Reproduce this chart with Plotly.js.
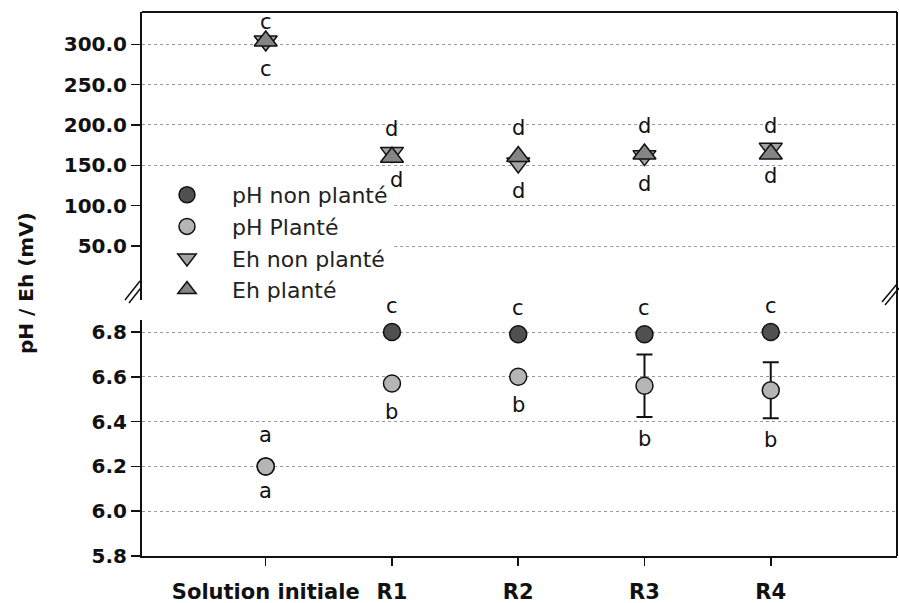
<!DOCTYPE html>
<html>
<head>
<meta charset="utf-8">
<script src="https://cdn.plot.ly/plotly-3.0.1.min.js"></script>
<style>html,body{margin:0;padding:0;background:#fff;}#chart{width:899px;height:603px;}</style>
</head>
<body>
<div id="chart"></div>
<script>
// ---- data ----
const categories = ["Solution initiale", "R1", "R2", "R3", "R4"];
const phNonPlante = [6.20, 6.80, 6.79, 6.79, 6.80];
const phPlante = [6.20, 6.57, 6.60, 6.56, 6.54];
const phPlanteErr = [0, 0, 0, 0.14, 0.125];
const ehNonPlante = [304, 166, 153, 162, 171];
const ehPlante = [304, 160, 161, 164, 164];
const lettersPhNonPlante = ["a", "c", "c", "c", "c"];
const lettersPhPlante = ["a", "b", "b", "b", "b"];
const lettersEhPlante = ["c", "d", "d", "d", "d"];
const lettersEhNonPlante = ["c", "d", "d", "d", "d"];
const phTicks = [5.8, 6.0, 6.2, 6.4, 6.6, 6.8];
const ehTicks = [50, 100, 150, 200, 250, 300];

// ---- geometry helpers (pixel frame of the plot) ----
const W = 899, H = 603;
const M = {l: 142, r: 2, t: 12, b: 47};
const PW = W - M.l - M.r, PH = H - M.t - M.b;
const px = x => (x - M.l) / PW;
const py = y => (H - M.b - y) / PH;

const font = "DejaVu Sans";
const black = "#111";

const traces = [
  {
    name: "pH non planté", x: categories, y: phNonPlante, xaxis: "x", yaxis: "y",
    type: "scatter", mode: "markers",
    marker: {symbol: "circle", size: 17, color: "#505050", line: {color: black, width: 1.5}}
  },
  {
    name: "pH Planté", x: categories, y: phPlante, xaxis: "x", yaxis: "y",
    type: "scatter", mode: "markers",
    error_y: {type: "data", array: phPlanteErr, visible: true, color: black, thickness: 2, width: 8},
    marker: {symbol: "circle", size: 17, color: "#b5b5b5", line: {color: black, width: 1.5}}
  },
  {
    name: "Eh non planté", x: categories, y: ehNonPlante, xaxis: "x", yaxis: "y2",
    type: "scatter", mode: "markers",
    marker: {symbol: "triangle-down", size: 20, color: "#a3a3a3", line: {color: black, width: 1.5}}
  },
  {
    name: "Eh planté", x: categories, y: ehPlante, xaxis: "x", yaxis: "y2",
    type: "scatter", mode: "markers",
    marker: {symbol: "triangle-up", size: 20, color: "#858585", line: {color: black, width: 1.5}}
  }
];

const annotations = [];
const letterFont = {family: font, size: 21, color: black};
categories.forEach((c, i) => {
  if (lettersPhNonPlante[i]) annotations.push({x: c, y: phNonPlante[i], xref: "x", yref: "y", text: lettersPhNonPlante[i], showarrow: false, yshift: (i === 0 ? 31 : 26), font: letterFont});
  const err = phPlanteErr[i];
  annotations.push({x: c, y: phPlante[i] - err, xref: "x", yref: "y", text: lettersPhPlante[i], showarrow: false, yshift: err > 0 ? -22 : (i === 0 ? -25 : -28), font: letterFont});
  annotations.push({x: c, y: ehPlante[i], xref: "x", yref: "y2", text: lettersEhPlante[i], showarrow: false, yshift: (i === 0 ? 19 : 28), font: letterFont});
  annotations.push({x: c, y: ehNonPlante[i], xref: "x", yref: "y2", text: lettersEhNonPlante[i], showarrow: false, yshift: -28, xshift: (i === 1 ? 5 : 0), font: letterFont});
});
annotations.push({
  text: "pH / Eh (mV)", xref: "paper", yref: "paper", x: px(26), y: py(283),
  xanchor: "center", yanchor: "middle", textangle: -90, showarrow: false,
  font: {family: font, size: 20, color: black, weight: "bold"}
});

const lineBlack = {color: black, width: 2};
const shapes = [
  // frame top and right
  {type: "line", xref: "paper", yref: "paper", x0: 0, x1: 1, y0: 1, y1: 1, line: lineBlack},
  {type: "line", xref: "paper", yref: "paper", x0: 1, x1: 1, y0: 0, y1: 1, line: lineBlack},
  // axis break marks
  {type: "line", xref: "paper", yref: "paper", x0: px(125), y0: py(300), x1: px(140), y1: py(281), line: {color: black, width: 1.5}},
  {type: "line", xref: "paper", yref: "paper", x0: px(129), y0: py(303), x1: px(144), y1: py(284), line: {color: black, width: 1.5}},
  {type: "line", xref: "paper", yref: "paper", x0: px(882), y0: py(302), x1: px(897), y1: py(284), line: {color: black, width: 1.5}},
  {type: "line", xref: "paper", yref: "paper", x0: px(885), y0: py(305), x1: px(899), y1: py(288), line: {color: black, width: 1.5}}
];

const tickFont = {family: font, size: 20, color: black, weight: "bold"};
const layout = {
  width: W, height: H,
  margin: M,
  paper_bgcolor: "#fff", plot_bgcolor: "rgba(0,0,0,0)",
  showlegend: true,
  legend: {
    x: 0, xanchor: "left", y: py(174), yanchor: "top",
    bgcolor: "#fff", borderwidth: 0, itemwidth: 80,
    font: {family: font, size: 22, color: "#222"}, tracegroupgap: 0
  },
  xaxis: {
    type: "category", range: [-0.98, 5.0], anchor: "y",
    showline: true, linecolor: black, linewidth: 2,
    ticks: "outside", ticklen: 8, tickwidth: 1.5, tickcolor: black,
    ticklabelstandoff: 8,
    tickfont: {family: font, size: 21, color: black, weight: "bold"},
    showgrid: false, zeroline: false
  },
  yaxis: {
    domain: [0, py(320)], range: [5.8, 6.8536], anchor: "x",
    tickvals: phTicks, tickformat: ".1f",
    showline: true, linecolor: black, linewidth: 2,
    ticks: "outside", ticklen: 9, tickwidth: 1.5, tickcolor: black,
    tickfont: tickFont,
    showgrid: true, gridcolor: "#9a9a9a", gridwidth: 1, griddash: "dot",
    zeroline: false
  },
  yaxis2: {
    domain: [py(300), 1], range: [-16.9, 340], anchor: "x",
    tickvals: ehTicks, tickformat: ".1f",
    showline: true, linecolor: black, linewidth: 2,
    ticks: "outside", ticklen: 9, tickwidth: 1.5, tickcolor: black,
    tickfont: tickFont,
    showgrid: true, gridcolor: "#9a9a9a", gridwidth: 1, griddash: "dot",
    zeroline: false
  },
  annotations: annotations,
  shapes: shapes
};

Plotly.newPlot("chart", traces, layout, {displayModeBar: false, staticPlot: true});
</script>
</body>
</html>
